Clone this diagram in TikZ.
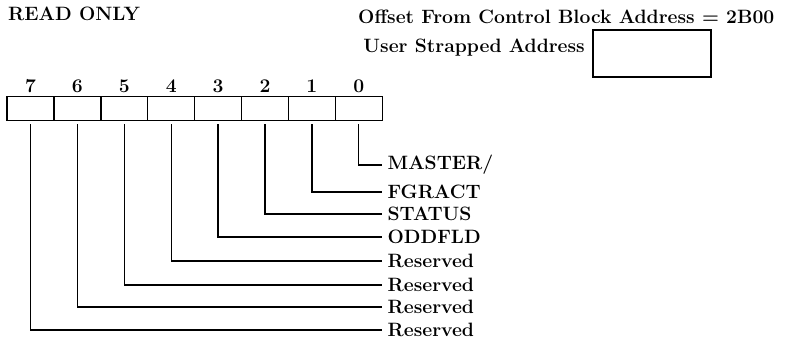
\documentclass[tikz,border=0pt]{standalone}
\usepackage{tikz}
\usetikzlibrary{positioning}

\begin{document}
\begin{tikzpicture}[x=0.02cm, y=-0.02cm, font=\fontsize{11}{13}\selectfont\bfseries,
  cell/.style={draw, line width=0.8pt, minimum width=0.938cm, minimum height=0.48cm, inner sep=0pt, outer sep=0pt},
  bitnum/.style={inner sep=1pt},
  flag/.style={anchor=west, inner sep=3pt}]

\useasboundingbox (0,0) rectangle (790,341);

% Headings
\node[anchor=west] (ro) at (2,14) {READ ONLY};
\node[anchor=west] (offset) at (352,17) {Offset From Control Block Address = 2B00};
\node[draw, line width=0.8pt, minimum width=2.36cm, minimum height=0.94cm, inner sep=0pt] (strap) at (652,53.5) {};
\node[anchor=east] (user) at (591,48) {User Strapped Address};

% Register cells and bit numbers
\foreach \i in {0,...,7} {
  \node[cell] (b\i) at ({30.5+46.9*(7-\i)},108.5) {};
  \node[bitnum, above=1pt of b\i] (n\i) {\i};
}

% Field names
\foreach \i/\y/\txt in {0/165/{MASTER/}, 1/192/FGRACT, 2/214/STATUS, 3/237/ODDFLD,
    4/261/Reserved, 5/285/Reserved, 6/307/Reserved, 7/330/Reserved} {
  \node[flag] (f\i) at (382,\y) {\txt};
  \draw[line width=0.7pt] ([yshift=-2.2pt]b\i.south) |- (f\i.west);
}

\end{tikzpicture}
\end{document}
